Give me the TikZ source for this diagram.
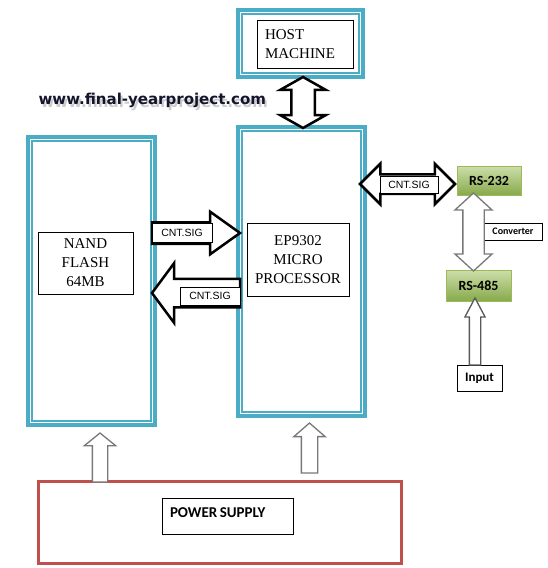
\documentclass[tikz,border=0pt]{standalone}
\usepackage{fontspec}
\setmainfont{Liberation Serif}
\newfontfamily\calibrifont{Carlito}
\newfontfamily\arialfont{Liberation Sans}
\newfontfamily\webfont{DejaVu Sans}
\usetikzlibrary{shapes.arrows, positioning, calc}
\definecolor{cAqua}{RGB}{75,172,198}
\definecolor{cBrick}{RGB}{192,80,77}
\definecolor{cLeafTop}{RGB}{205,222,170}
\definecolor{cLeafBot}{RGB}{135,170,75}
\definecolor{cLeafLine}{RGB}{155,187,89}
\definecolor{cArrowGray}{RGB}{120,120,120}
\definecolor{cInk}{RGB}{20,20,45}
\tikzset{
	frame/.style    ={rectangle, draw=cAqua, line width=4pt, outer sep=0pt, inner sep=0pt},
	innerframe/.style={draw=cAqua, line width=1.2pt},
	psuframe/.style ={rectangle, draw=cBrick, line width=3pt, outer sep=0pt, inner sep=0pt},
	unit/.style     ={rectangle, draw=black, line width=1pt, align=center, inner sep=0pt, font=\fontsize{15}{19}\selectfont},
	port/.style     ={rectangle, draw=cLeafLine, line width=0.8pt, top color=cLeafTop, bottom color=cLeafBot, inner sep=0pt, font=\calibrifont\bfseries\fontsize{14}{16}\selectfont},
	note/.style     ={rectangle, draw=black, line width=1pt, fill=white, inner sep=0pt, font=\calibrifont\bfseries},
	tag/.style      ={rectangle, draw=black, line width=0.8pt, fill=white, inner sep=0pt, font=\arialfont\fontsize{10.5}{12}\selectfont},
	% block arrows (shaft = text height + text depth)
	shaft/.style    ={text height=#1, text depth=#1},
	sigarrow/.style ={single arrow, draw=black, line width=2.5pt, fill=white, inner sep=0pt, outer sep=0pt, single arrow head indent=0pt},
	sigarrows/.style={double arrow, draw=black, line width=2.5pt, fill=white, inner sep=0pt, outer sep=0pt, double arrow head indent=0pt},
	pwrarrow/.style ={single arrow, draw=cArrowGray, line width=1.3pt, fill=white, inner sep=0pt, outer sep=0pt, single arrow head indent=0pt},
	pwrarrows/.style={double arrow, draw=cArrowGray, line width=1.3pt, fill=white, inner sep=0pt, outer sep=0pt, double arrow head indent=0pt},
}
\begin{document}
\begin{tikzpicture}[x=1pt, y=-1pt]
	\useasboundingbox (0,0) rectangle (547,568);
	% outer frames
	\node[frame, minimum width=125, minimum height=67] (hostF) at (300.5,43.5) {};
	\node[frame, minimum width=127, minimum height=288] (nandF) at (91.5,281) {};
	\node[frame, minimum width=127, minimum height=289] (cpuF) at (301.5,271.5) {};
	\foreach \f in {hostF, nandF, cpuF}
		\draw[innerframe] ($(\f.north west)+(4,4)$) rectangle ($(\f.south east)+(-4,-4)$);
	\node[psuframe, minimum width=363, minimum height=82] (psuF) at (220,522.5) {};
	% blocks
	\node[unit, minimum width=96, minimum height=48, text width=80, align=left] (host) at (305,44) {HOST\\MACHINE};
	\node[unit, minimum width=95, minimum height=62] (nand) at (85.5,263) {NAND\\FLASH\\64MB};
	\node[unit, minimum width=102, minimum height=73] (cpu) at (298,259.5) {EP9302\\MICRO\\PROCESSOR};
	\node[unit, minimum width=131, minimum height=36, text width=115, align=left, text height=10, text depth=8,
		font=\calibrifont\bfseries\fontsize{15}{18}\selectfont] (psu) at (227.5,516) {\spaceskip=2.5pt POWER SUPPLY};
	\node[port, minimum width=64, minimum height=29] (rs232) at (489,180.5) {RS-232};
	\node[port, minimum width=65, minimum height=31] (rs485) at (478.5,285.5) {RS-485};
	\node[note, minimum width=58, minimum height=17, font=\calibrifont\bfseries\fontsize{10}{12}\selectfont] (conv) at (513,231.5) {Converter};
	\node[note, minimum width=45, minimum height=26, font=\calibrifont\bfseries\fontsize{13}{15}\selectfont] (inp) at (479.5,378) {Input};
	% signal arrows
	\node[sigarrows, shaft=10.5, minimum height=51, minimum width=43, double arrow head extend=11, double arrow tip angle=121, rotate=90] (hostLink) at (303,102.5) {};
	\node[sigarrow, shaft=9.5, minimum height=88, minimum width=40, single arrow head extend=10.5, single arrow tip angle=71, anchor=tip] (toCpu) at (240,233) {};
	\node[tag, minimum width=60, minimum height=19] (toCpuTag) at (182,232.5) {CNT.SIG};
	\node[sigarrow, shaft=13, minimum height=88, minimum width=57, single arrow head extend=15.5, single arrow tip angle=107, rotate=180, anchor=tip] (toNand) at (152,293) {};
	\node[tag, minimum width=60, minimum height=18] (toNandTag) at (210,296) {CNT.SIG};
	\node[sigarrows, shaft=8.5, minimum height=95, minimum width=38, double arrow head extend=10.5] (serLink) at (407.5,184) {};
	\node[tag, minimum width=58, minimum height=17] (serTag) at (409,184.5) {CNT.SIG};
	% converter, input and power arrows
	\node[pwrarrows, shaft=10, minimum height=78, minimum width=36, double arrow head extend=8, double arrow tip angle=95, rotate=90] (convLink) at (473.5,232) {};
	\node[pwrarrow, draw=black!65, shaft=5, minimum height=67, minimum width=19, single arrow head extend=4.5, single arrow tip angle=56, rotate=90, anchor=tip] (inLink) at (475,298) {};
	\node[pwrarrow, shaft=7, minimum height=49, minimum width=30, single arrow head extend=8, single arrow tip angle=102, rotate=90, anchor=tip] (pwrNand) at (100,433) {};
	\node[pwrarrow, shaft=7.5, minimum height=50, minimum width=30, single arrow head extend=7.5, single arrow tip angle=98, rotate=90, anchor=tip] (pwrCpu) at (309.5,423) {};
	% site mark
	\node[anchor=base west, text=gray!40, font=\webfont\bfseries\fontsize{15}{18}\selectfont] (markShadow) at (37,107) {www.final-yearproject.com};
	\node[anchor=base west, text=cInk, font=\webfont\bfseries\fontsize{15}{18}\selectfont] (mark) at (35,104) {www.final-yearproject.com};
\end{tikzpicture}
\end{document}
